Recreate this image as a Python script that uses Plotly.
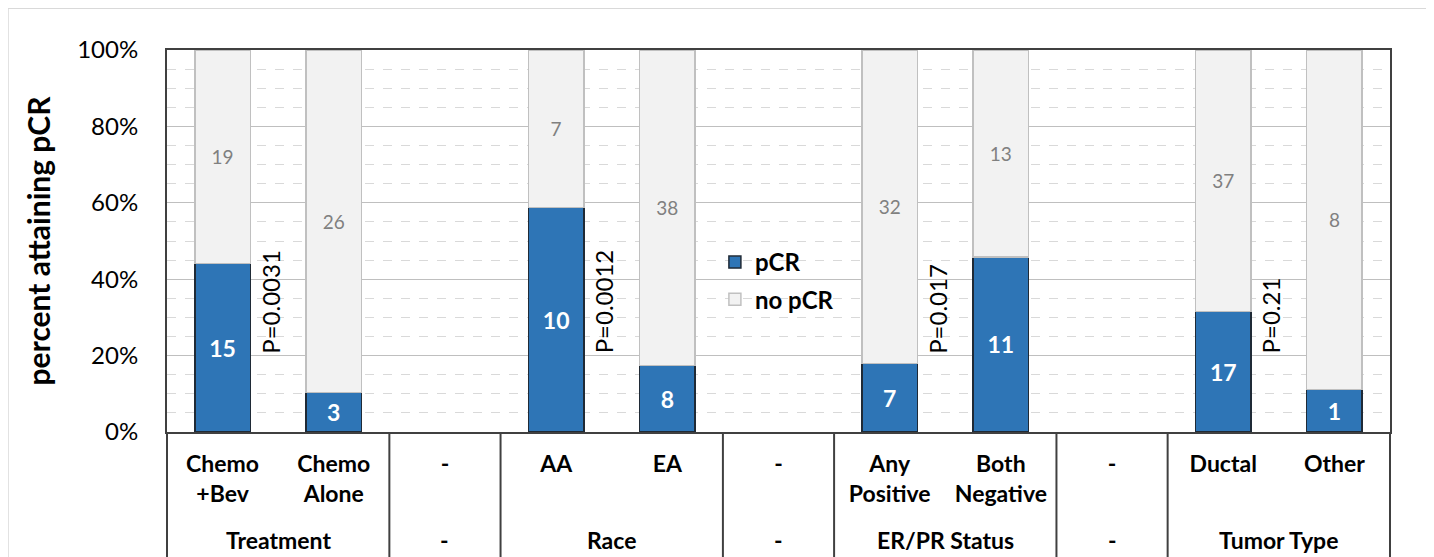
import plotly.graph_objects as go

ZW = "\u200b"
categories = ["Chemo<br>+Bev", "Chemo<br>Alone", "-", "AA", "EA", "-" + ZW,
              "Any<br>Positive", "Both<br>Negative", "-" + ZW * 2, "Ductal", "Other"]
group_labels = ["Treatment", "-", "Race", "-", "ER/PR Status", "-", "Tumor Type"]
group_spans = [(0, 1), (2, 2), (3, 4), (5, 5), (6, 7), (8, 8), (9, 10)]  # first/last category index
pcr_counts = [15, 3, None, 10, 8, None, 7, 11, None, 17, 1]
nopcr_counts = [19, 26, None, 7, 38, None, 32, 13, None, 37, 8]
p_labels = ["P=0.0031", "P=0.0012", "P=0.017", "P=0.21"]
p_positions = [0, 3, 6, 9]   # category index of the first bar of each compared pair
p_base = 20                   # percent level where each P label starts

pcr_pct = [None if (a is None) else a / (a + b) * 100 for a, b in zip(pcr_counts, nopcr_counts)]
nopcr_pct = [None if (a is None) else b / (a + b) * 100 for a, b in zip(pcr_counts, nopcr_counts)]
pcr_text = ["" if v is None else str(v) for v in pcr_counts]
nopcr_text = ["" if v is None else str(v) for v in nopcr_counts]

FONT = "Lato"
LINE = "#404040"
N = len(categories)

fig = go.Figure()
fig.add_trace(go.Bar(
    x=categories, y=pcr_pct, name="pCR", text=pcr_text, textposition="inside",
    insidetextanchor="middle", textangle=0, legendgroup="a",
    textfont=dict(family=FONT, size=23, color="white", weight="bold"),
    marker=dict(color="#2e75b6", line=dict(color="#1f2a36", width=1.5)),
    hoverinfo="skip",
))
fig.add_trace(go.Bar(
    x=categories, y=nopcr_pct, name="no pCR", text=nopcr_text, textposition="inside",
    insidetextanchor="middle", textangle=0, legendgroup="b",
    textfont=dict(family=FONT, size=19, color="#808080"),
    marker=dict(color="#f2f2f2", line=dict(color="#c0c0c0", width=1.5)),
    hoverinfo="skip",
))

for lab, pos in zip(p_labels, p_positions):
    fig.add_annotation(
        x=pos + 0.5, y=p_base, xref="x", yref="y", text=lab, textangle=-90,
        showarrow=False, xanchor="center", yanchor="bottom", xshift=-8,
        font=dict(family=FONT, size=24, color="black"),
    )

# group labels (second level of the category axis) and dividers
for lab, (a, b) in zip(group_labels, group_spans):
    fig.add_annotation(
        x=(a + b) / 2, y=-0.283, xref="x", yref="paper", text=lab,
        showarrow=False, xanchor="center", yanchor="middle",
        font=dict(family=FONT, size=23, color="black", weight="bold"),
    )
bounds = sorted(set([a - 0.5 for a, b in group_spans] + [b + 0.5 for a, b in group_spans]))
for bd in bounds:
    xp = (bd + 0.5) / N
    fig.add_shape(type="line", xref="paper", yref="paper", x0=xp, x1=xp, y0=0, y1=-0.5,
                  line=dict(color=LINE, width=2))

# outer chart frame
fig.add_shape(type="rect", xref="paper", yref="paper",
              x0=-0.130, x1=1.0311, y0=-0.6, y1=1.109,
              line=dict(color="#d9d9d9", width=1.5), fillcolor="rgba(0,0,0,0)", layer="below")

fig.update_layout(
    width=1434, height=557,
    margin=dict(l=159, r=52, t=42, b=133),
    paper_bgcolor="white", plot_bgcolor="white",
    barmode="stack", bargap=0.5,
    font=dict(family=FONT, color="black"),
    legend=dict(x=0.448, y=0.5026, xanchor="left", yanchor="top",
                font=dict(family=FONT, size=24, weight="bold"),
                bgcolor="rgba(0,0,0,0)", traceorder="grouped",
                itemwidth=30, tracegroupgap=3),
    xaxis=dict(
        type="category", categoryorder="array", categoryarray=categories,
        showline=True, linecolor=LINE, linewidth=2, mirror=True,
        tickfont=dict(family=FONT, size=23, weight="bold", color="black"),
        showgrid=False, ticks="", ticklabelstandoff=10,
    ),
    yaxis=dict(
        range=[0, 100], dtick=20, ticksuffix="%",
        showline=True, linecolor=LINE, linewidth=2, mirror=True,
        showgrid=True, gridcolor="#bfbfbf", gridwidth=1,
        minor=dict(dtick=5, showgrid=True, gridcolor="#d9d9d9", griddash="dash", gridwidth=1),
        tickfont=dict(family=FONT, size=24, color="black"),
        ticklabelstandoff=22,
        zeroline=False,
        title=dict(text="percent attaining pCR", standoff=18,
                   font=dict(family=FONT, size=30, weight="bold", color="black")),
    ),
)

fig.write_html("out.html")
